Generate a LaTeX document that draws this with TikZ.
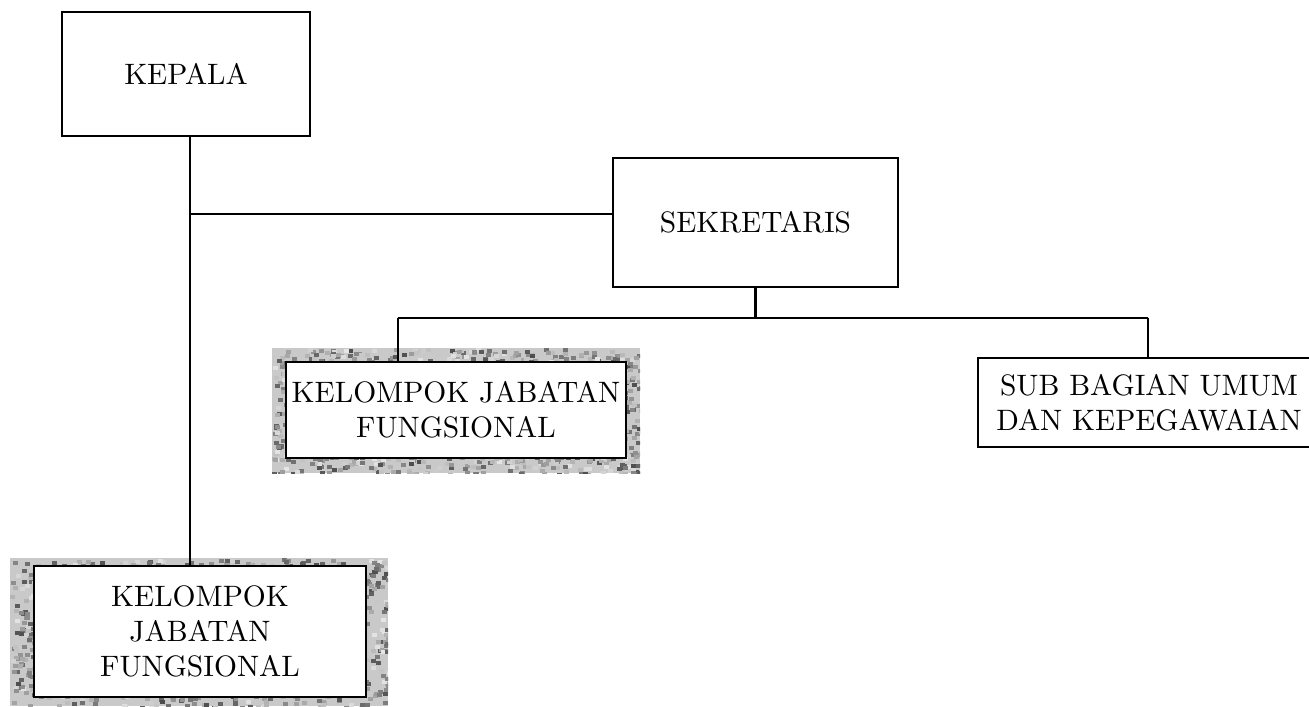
\documentclass[tikz,border=0pt]{standalone}
\usepackage{tikz}
\usetikzlibrary{positioning}
\newcommand{\grain}[4]{\begin{scope}
					\clip (#1,#2) rectangle (#3,#4);
					\fill[gray!42] (#1,#2) rectangle (#3,#4);
					\foreach \k in {1,...,1400}{
						\pgfmathsetmacro{\gx}{#1+rnd*(#3-#1)}
						\pgfmathsetmacro{\gy}{#2+rnd*(#4-#2)}
						\pgfmathsetmacro{\gs}{10+60*rnd}
						\fill[black!\gs!white] (\gx,\gy) rectangle ++(5,4);
					}
					\end{scope}}
\tikzset{orgbox/.style={draw, line width=0.8pt, fill=white, align=center, inner sep=2pt,
					font=\fontsize{10.5}{12.5}\selectfont},
		link/.style={line width=0.8pt}}

\begin{document}
\begin{tikzpicture}[x=0.0125cm, y=-0.0125cm]
					\useasboundingbox (0,0) rectangle (1309,706);
					\pgfmathsetseed{11}

					\grain{272}{348}{640}{473}
					\grain{10}{558}{388}{706}

					\node[orgbox, minimum width=3.1cm, minimum height=1.55cm] (kepala) at (186,74) {KEPALA};
					\node[orgbox, minimum width=3.5625cm, minimum height=1.6125cm] (sekretaris) at (755.5,222.5) {SEKRETARIS};
					\node[orgbox, minimum width=4.225cm, minimum height=1.2cm] (kjfa) at (456,410) {KELOMPOK JABATAN\\FUNGSIONAL};
					\node[orgbox, minimum width=4.275cm, minimum height=1.1125cm] (subbag) at (1149,402.5) {SUB BAGIAN UMUM\\DAN KEPEGAWAIAN};
					\node[orgbox, minimum width=4.15cm, minimum height=1.6375cm] (kjfb) at (200,631.5) {KELOMPOK\\JABATAN\\FUNGSIONAL};

					\coordinate (trunk) at ([xshift=0.05cm]kepala.south);
					\coordinate (dropa) at (398,318);
					\coordinate (dropb) at (1148,318);

					\draw[link] (trunk) -- (trunk |- kjfb.north);
					\draw[link] (trunk |- 0,214) -- (sekretaris.west |- 0,214);
					\draw[link] (sekretaris.south) -- (sekretaris.south |- dropa);
					\draw[link] (dropa) -- (dropb);
					\draw[link] (dropa) -- (dropa |- kjfa.north);
					\draw[link] (dropb) -- (dropb |- subbag.north);

				\end{tikzpicture}
\end{document}
